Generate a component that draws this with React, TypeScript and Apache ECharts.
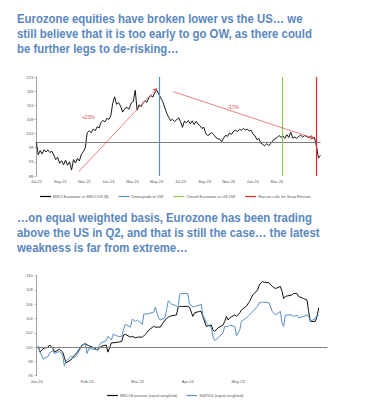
import React, { useEffect, useRef } from "react";
import * as echarts from "echarts";

// ---------- Text ----------
const TITLE_TOP = [
  "Eurozone equities have broken lower vs the US… we",
  "still believe that it is too early to go OW, as there could",
  "be further legs to de-risking…",
];
const TITLE_BOTTOM = [
  "…on equal weighted basis, Eurozone has been trading",
  "above the US in Q2, and that is still the case… the latest",
  "weakness is far from extreme…",
];

// ---------- Chart 1: MSCI Eurozone vs MSCI US ($) ----------
const REL_NAME = "MSCI Eurozone vs MSCI US ($)";
const REL_START = "2022-07-01";
const REL_STEP_DAYS = 5;
const REL_VALUES = [
  100.0, 95.5, 97.0, 95.8, 97.3, 96.5, 97.2, 96.3, 96.8, 95.4,
  93.8, 94.6, 92.5, 93.4, 92.0, 93.6, 91.8, 93.0, 90.1, 93.8,
  92.6, 94.2, 93.3, 95.6, 96.6, 97.8, 103.3, 104.0, 103.3, 104.6,
  104.0, 105.4, 105.0, 107.0, 107.6, 107.2, 108.4, 108.0, 109.2, 113.7,
  116.0, 113.3, 114.0, 112.8, 110.6, 111.8, 112.3, 111.6, 113.8, 114.3,
  118.3, 111.3, 113.2, 112.5, 113.8, 114.6, 114.0, 115.8, 116.4, 115.9,
  117.6, 118.3, 116.8, 115.6, 114.3, 112.2, 110.3, 108.8, 107.6, 108.0,
  107.3, 107.8, 108.6, 107.2, 105.2, 107.4, 106.8, 107.6, 106.4, 107.5,
  106.2, 107.3, 106.4, 105.8, 104.8, 105.2, 103.0, 102.3, 102.8, 103.3,
  102.6, 101.6, 101.2, 101.0, 100.2, 101.4, 102.4, 102.0, 103.2, 102.7,
  103.8, 104.2, 103.7, 104.5, 104.2, 104.8, 104.3, 104.6, 103.9, 104.2,
  102.8, 102.2, 100.8, 101.3, 99.6, 99.2, 98.7, 99.4, 98.8, 99.5,
  100.6, 101.2, 101.6, 102.3, 101.7, 102.2, 101.3, 102.6, 101.6, 103.5,
  101.4, 101.8, 101.3, 102.0, 102.4, 101.8, 102.3, 102.0, 101.6, 101.9,
  101.4, 101.6, 98.6, 94.3, 95.3,
];
const REL_X_LABELS = [
  "Jul-22", "Sep-22", "Nov-22", "Jan-23", "Mar-23", "May-23",
  "Jul-23", "Sep-23", "Nov-23", "Jan-24", "Mar-24", "May-24",
];
const REL_Y_TICKS = [88, 93, 98, 103, 108, 113, 118, 123];
const REL_EVENTS = [
  { name: "Downgrade to UW", date: "2023-05-08", color: "#5a8fcf" },
  { name: "Closed Eurozone vs US UW", date: "2024-03-15", color: "#8fc64f" },
  { name: "Macron calls for Snap Election", date: "2024-06-09", color: "#e0282e" },
];
const REL_ARROWS = [
  { from: ["2022-10-17", 89.5], to: ["2023-05-02", 119.0], label: "+23%", labelAt: ["2022-11-11", 109.0] },
  { from: ["2023-06-13", 117.8], to: ["2024-06-04", 101.3], label: "-17%", labelAt: ["2023-11-12", 112.5] },
];

// ---------- Chart 2: equal weighted ----------
const EW_DATES = [
  "2024-01-02", "2024-01-03", "2024-01-05", "2024-01-08", "2024-01-09", "2024-01-11", "2024-01-12", "2024-01-15",
  "2024-01-17", "2024-01-18", "2024-01-19", "2024-01-22", "2024-01-24", "2024-01-26", "2024-01-29", "2024-01-31",
  "2024-02-01", "2024-02-02", "2024-02-05", "2024-02-07", "2024-02-08", "2024-02-09", "2024-02-12", "2024-02-13",
  "2024-02-15", "2024-02-16", "2024-02-19", "2024-02-21", "2024-02-22", "2024-02-23", "2024-02-26", "2024-02-27",
  "2024-02-29", "2024-03-01", "2024-03-04", "2024-03-05", "2024-03-06", "2024-03-08", "2024-03-11", "2024-03-12",
  "2024-03-14", "2024-03-15", "2024-03-18", "2024-03-19", "2024-03-20", "2024-03-22", "2024-03-25", "2024-03-26",
  "2024-03-27", "2024-03-28", "2024-04-01", "2024-04-02", "2024-04-04", "2024-04-05", "2024-04-08", "2024-04-09",
  "2024-04-10", "2024-04-12", "2024-04-15", "2024-04-16", "2024-04-17", "2024-04-19", "2024-04-22", "2024-04-23",
  "2024-04-24", "2024-04-25", "2024-04-26", "2024-04-29", "2024-04-30", "2024-05-02", "2024-05-03", "2024-05-06",
  "2024-05-08", "2024-05-10", "2024-05-13", "2024-05-14", "2024-05-16", "2024-05-17", "2024-05-20", "2024-05-22",
  "2024-05-24", "2024-05-27", "2024-05-28", "2024-05-29", "2024-05-30", "2024-06-03", "2024-06-04", "2024-06-06",
  "2024-06-07", "2024-06-10", "2024-06-12", "2024-06-13", "2024-06-14", "2024-06-17", "2024-06-18", "2024-06-19",
];
const EZ_EW_NAME = "MSCI Eurozone (equal weighted)";
const EZ_EW = [
  100.1, 99.3, 99.8, 100.0, 100.3, 99.8, 99.3, 99.7,
  99.3, 98.6, 97.8, 98.2, 98.8, 99.3, 100.3, 100.5,
  100.3, 100.2, 99.9, 99.6, 99.8, 100.1, 100.3, 99.3,
  100.6, 100.6, 100.7, 100.8, 101.7, 101.8, 101.4, 101.5,
  101.3, 101.4, 101.4, 101.6, 101.8, 102.4, 102.9, 102.8,
  102.8, 102.8, 103.8, 104.0, 104.2, 104.4, 104.5, 105.5,
  105.7, 105.7, 105.7, 105.6, 104.3, 104.8, 105.0, 105.0,
  104.3, 102.9, 103.1, 102.4, 102.2, 102.7, 103.1, 103.6,
  104.3, 103.8, 104.1, 104.5, 104.3, 104.8, 105.2, 105.7,
  106.4, 107.3, 108.0, 108.7, 109.2, 109.1, 109.0, 108.5,
  108.2, 108.5, 107.8, 106.8, 107.1, 107.3, 107.5, 107.5,
  107.1, 106.8, 106.6, 105.0, 103.6, 103.6, 104.3, 105.5,
];
const SP_EW_NAME = "S&P500 (equal weighted)";
const SP_EW = [
  100.2, 99.4, 98.3, 98.7, 99.2, 99.5, 99.1, 99.4,
  98.9, 97.4, 98.0, 98.7, 98.5, 99.0, 100.3, 100.4,
  99.1, 99.8, 99.7, 99.6, 100.2, 100.6, 100.9, 101.5,
  101.0, 101.8, 101.5, 101.5, 102.5, 103.2, 102.8, 103.9,
  103.6, 103.8, 103.2, 104.7, 104.6, 104.7, 104.9, 105.6,
  104.1, 103.8, 104.1, 105.3, 106.5, 106.0, 105.8, 105.5,
  107.4, 107.5, 107.5, 106.1, 105.6, 105.7, 105.9, 106.0,
  104.5, 103.4, 102.7, 101.5, 100.9, 101.3, 102.0, 102.9,
  102.9, 102.9, 103.1, 102.9, 101.6, 102.4, 103.6, 104.1,
  104.5, 105.0, 105.7, 106.2, 106.3, 106.3, 106.2, 105.0,
  104.5, 105.0, 103.4, 102.9, 104.5, 104.5, 104.3, 104.5,
  104.1, 104.3, 104.5, 104.3, 103.6, 104.0, 104.5, 104.4,
];
const EW_X_LABELS = ["Jan-24", "Feb-24", "Mar-24", "Apr-24", "May-24", "Jun-24"];
const EW_Y_TICKS = [96, 98, 100, 102, 104, 106, 108, 110];

// ---------- helpers ----------
const DAY = 86400000;
function parseDate(s: string): number {
  const [y, m, d] = s.split("-").map(Number);
  return Date.UTC(y, m - 1, d);
}
function monthPos(t: number, baseY: number, baseM: number): number {
  const dt = new Date(t);
  const y = dt.getUTCFullYear();
  const m = dt.getUTCMonth();
  const d = dt.getUTCDate();
  const dim = new Date(Date.UTC(y, m + 1, 0)).getUTCDate();
  return (y - baseY) * 12 + (m - baseM) + (d - 1) / dim;
}
const relX = (s: string) => monthPos(parseDate(s), 2022, 6);
const ewX = (s: string) => monthPos(parseDate(s), 2024, 0);

const FONT = "'Liberation Sans', Arial, sans-serif";
const TITLE_COLOR = "#5a87bf";
const AXIS_GREY = "#8a8a8a";
const LABEL_GREY = "#595959";
const EW_BLUE = "#5b8fc7";

function titleBlock(lines: string[], top: number) {
  return {
    type: "text",
    x: 17,
    y: top,
    scaleX: 0.875,
    silent: true,
    style: {
      text: lines.join("\n"),
      fontFamily: FONT,
      fontSize: 13,
      fontWeight: "bold",
      fill: TITLE_COLOR,
      lineHeight: 15,
      textVerticalAlign: "top",
    },
  };
}

export default function App() {
  const ref = useRef<HTMLDivElement>(null);

  useEffect(() => {
    if (!ref.current) return;
    const chart = echarts.init(ref.current, undefined, { renderer: "svg" });

    const relStart = parseDate(REL_START);
    const relData = REL_VALUES.map((v, i) => [
      monthPos(relStart + i * REL_STEP_DAYS * DAY, 2022, 6),
      v,
    ]);
    const ezData = EW_DATES.map((d, i) => [ewX(d), EZ_EW[i]]);
    const spData = EW_DATES.map((d, i) => [ewX(d), SP_EW[i]]);

    const tinyLabel = { fontSize: 4, color: LABEL_GREY, fontFamily: FONT };
    const yAxisBase = {
      type: "value" as const,
      axisLine: { show: true, lineStyle: { color: AXIS_GREY, width: 0.8 } },
      axisTick: { show: true, length: 2, lineStyle: { color: AXIS_GREY, width: 0.6 } },
      splitLine: { show: false },
    };
    const xAxisBase = {
      type: "value" as const,
      axisLine: { show: false },
      axisTick: { show: false },
      splitLine: { show: false },
    };
    const legendBase = {
      padding: 0,
      icon: "rect",
      itemWidth: 11,
      itemHeight: 1.2,
      selectedMode: false,
      textStyle: { fontSize: 3.9, color: LABEL_GREY, fontFamily: FONT, padding: [0, 0, 0, -3] },
    };

    const option: any = {
      animation: false,
      backgroundColor: "#ffffff",
      graphic: [titleBlock(TITLE_TOP, 11), titleBlock(TITLE_BOTTOM, 210)],
      legend: [
        {
          ...legendBase,
          data: [REL_NAME, ...REL_EVENTS.map((e) => e.name)],
          left: 40,
          top: 194.5,
          itemGap: 10,
        },
        {
          ...legendBase,
          data: [EZ_EW_NAME, SP_EW_NAME],
          left: 107,
          top: 393.5,
          itemGap: 9,
        },
      ],
      grid: [
        { left: 36.3, top: 77, width: 284.2, height: 99, containLabel: false },
        { left: 36.7, top: 275.7, width: 290.6, height: 100, containLabel: false },
      ],
      xAxis: [
        {
          ...xAxisBase,
          gridIndex: 0,
          min: 0,
          max: 23.64,
          interval: 2,
          axisLabel: {
            ...tinyLabel,
            margin: 3.5,
            showMaxLabel: false,
            customValues: REL_X_LABELS.map((_, i) => i * 2),
            formatter: (v: number) => REL_X_LABELS[Math.round(v / 2)] ?? "",
          },
        },
        {
          ...xAxisBase,
          gridIndex: 1,
          min: 0,
          max: 5.77,
          interval: 1,
          axisLabel: {
            ...tinyLabel,
            margin: 4,
            showMaxLabel: false,
            customValues: EW_X_LABELS.map((_, i) => i),
            formatter: (v: number) => EW_X_LABELS[Math.round(v)] ?? "",
          },
        },
      ],
      yAxis: [
        {
          ...yAxisBase,
          gridIndex: 0,
          min: REL_Y_TICKS[0],
          max: REL_Y_TICKS[REL_Y_TICKS.length - 1],
          axisLabel: { ...tinyLabel, margin: 3, customValues: REL_Y_TICKS },
          axisTick: { ...yAxisBase.axisTick, customValues: REL_Y_TICKS },
        },
        {
          ...yAxisBase,
          gridIndex: 1,
          min: EW_Y_TICKS[0],
          max: EW_Y_TICKS[EW_Y_TICKS.length - 1],
          interval: 2,
          axisLabel: { ...tinyLabel, margin: 4 },
        },
      ],
      series: [
        {
          name: REL_NAME,
          type: "line",
          xAxisIndex: 0,
          yAxisIndex: 0,
          data: relData,
          symbol: "none",
          color: "#000000",
          lineStyle: { color: "#000000", width: 0.9 },
          z: 3,
          markLine: {
            silent: true,
            symbol: "none",
            label: { show: false },
            data: [
              { yAxis: 100, lineStyle: { color: "#7f7f7f", width: 1, type: "solid" } },
              ...REL_EVENTS.map((e) => ({
                xAxis: relX(e.date),
                lineStyle: { color: e.color, width: 1.2, type: "solid" },
              })),
              ...REL_ARROWS.map((a) => [
                {
                  coord: [relX(a.from[0] as string), a.from[1]],
                  symbol: "none",
                  lineStyle: { color: "#e34a4a", width: 0.7, type: "solid" },
                },
                {
                  coord: [relX(a.to[0] as string), a.to[1]],
                  symbol: "arrow",
                  symbolSize: 4,
                },
              ]),
            ],
          },
          markPoint: {
            silent: true,
            symbol: "circle",
            symbolSize: 0,
            data: REL_ARROWS.map((a) => ({
              coord: [relX(a.labelAt[0] as string), a.labelAt[1]],
              label: {
                show: true,
                position: "inside",
                formatter: a.label,
                color: "#e04848",
                fontSize: 5,
                fontFamily: FONT,
              },
            })),
          },
        },
        ...REL_EVENTS.map((e) => ({
          name: e.name,
          type: "line",
          xAxisIndex: 0,
          yAxisIndex: 0,
          data: [],
          symbol: "none",
          color: e.color,
          lineStyle: { color: e.color, width: 1.2 },
        })),
        {
          name: EZ_EW_NAME,
          type: "line",
          xAxisIndex: 1,
          yAxisIndex: 1,
          data: ezData,
          symbol: "none",
          color: "#111111",
          lineStyle: { color: "#111111", width: 1 },
          z: 3,
          markLine: {
            silent: true,
            symbol: "none",
            label: { show: false },
            data: [{ yAxis: 100, lineStyle: { color: "#7f7f7f", width: 1, type: "solid" } }],
          },
        },
        {
          name: SP_EW_NAME,
          type: "line",
          xAxisIndex: 1,
          yAxisIndex: 1,
          data: spData,
          symbol: "none",
          color: EW_BLUE,
          lineStyle: { color: EW_BLUE, width: 1 },
          z: 4,
        },
      ],
    };

    chart.setOption(option);
    return () => chart.dispose();
  }, []);

  return (
    <div
      ref={ref}
      style={{ position: "absolute", left: 0, top: 0, width: 385, height: 406, background: "#fff" }}
    />
  );
}
